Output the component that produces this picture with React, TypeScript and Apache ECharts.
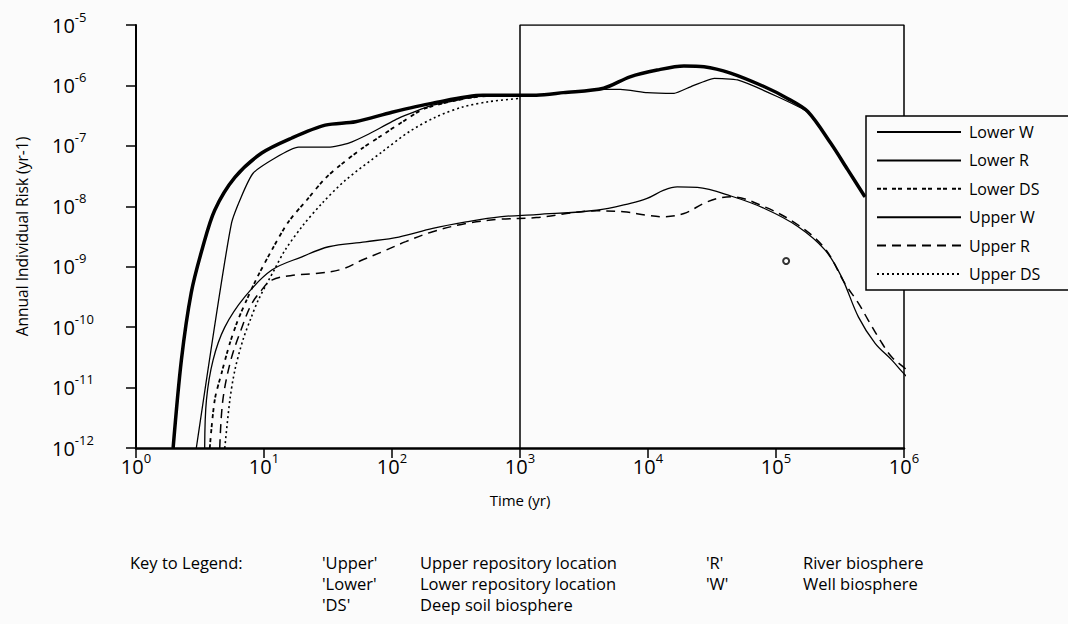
import React, { useEffect, useRef } from 'react';
import * as echarts from 'echarts';

// ---- data (time in years, annual individual risk per year) ----
const lowerWTime = [1.95, 2.26, 2.7, 3.32, 4.12, 5.92, 9.6, 16.5, 30.1, 51.9, 100, 208, 513, 1340, 2180, 4500, 7230, 11800, 19100, 27400, 44100, 81300, 123000, 177000, 268000, 364000, 495000];
const lowerWRisk = [1e-12, 2.8e-11, 3.7e-10, 2.1e-9, 8.6e-9, 3.0e-8, 7.6e-8, 1.35e-7, 2.2e-7, 2.5e-7, 3.6e-7, 5.1e-7, 6.9e-7, 6.9e-7, 7.6e-7, 9.0e-7, 1.39e-6, 1.8e-6, 2.1e-6, 2.04e-6, 1.6e-6, 9.5e-7, 6.1e-7, 3.7e-7, 1.1e-7, 4.0e-8, 1.44e-8];

const lowerRTime = [2.96, 5.58, 8.25, 18.6, 32, 45.9, 65.9, 113, 208, 513, 1340, 2180, 4500, 6070, 9840, 16000, 21500, 32900, 50100, 103000, 177000, 268000, 364000, 495000];
const lowerRRisk = [1e-12, 5.3e-9, 3.55e-8, 9.5e-8, 9.5e-8, 1.11e-7, 1.57e-7, 2.88e-7, 4.7e-7, 6.7e-7, 6.8e-7, 7.5e-7, 8.6e-7, 8.6e-7, 7.6e-7, 7.4e-7, 9.5e-7, 1.31e-6, 1.23e-6, 6.5e-7, 3.6e-7, 1.1e-7, 4.0e-8, 1.42e-8];

const lowerDSTime = [3.77, 4.12, 4.66, 5.41, 6.25, 7.31, 8.77, 11.5, 15.5, 21.6, 30.1, 39.5, 58.5, 84, 121, 184, 513, 1000];
const lowerDSRisk = [1e-12, 6.2e-12, 1.73e-11, 5.4e-11, 1.3e-10, 2.8e-10, 6.4e-10, 1.88e-9, 5.5e-9, 1.27e-8, 2.9e-8, 4.8e-8, 9.1e-8, 1.51e-7, 2.5e-7, 4.2e-7, 6.6e-7, 6.8e-7];

const upperWTime = [3.44, 3.55, 4.0, 4.94, 7.1, 11.5, 19.8, 32, 62, 113, 208, 379, 692, 1340, 3980, 7280, 9840, 13300, 16900, 24300, 44400, 81300, 149000, 241000, 325000, 440000, 595000, 804000, 973000, 1120000];
const upperWRisk = [1e-12, 6.2e-12, 2.85e-11, 1.0e-10, 3.2e-10, 8.8e-10, 1.46e-9, 2.14e-9, 2.58e-9, 3.1e-9, 4.3e-9, 5.5e-9, 6.7e-9, 7.3e-9, 8.6e-9, 1.12e-8, 1.35e-8, 1.85e-8, 2.1e-8, 2.05e-8, 1.48e-8, 9.2e-9, 4.6e-9, 1.9e-9, 6.8e-10, 1.48e-10, 5.4e-11, 2.85e-11, 1.8e-11, 1.33e-11];

const upperRTime = [4.51, 4.77, 5.51, 6.6, 7.9, 9.3, 11.5, 17.5, 25.2, 40.7, 58.5, 84, 128, 208, 379, 692, 1340, 3980, 6450, 9840, 13300, 19100, 27400, 34900, 44400, 81300, 149000, 241000, 345000, 440000, 526000, 650000, 802000, 1050000, 1150000];
const upperRRisk = [1e-12, 6.2e-12, 2.85e-11, 8.9e-11, 2.3e-10, 3.8e-10, 6.0e-10, 7.3e-10, 7.7e-10, 9.1e-10, 1.29e-9, 1.77e-9, 2.6e-9, 3.8e-9, 5.2e-9, 6.1e-9, 6.5e-9, 8.4e-9, 8.1e-9, 7.1e-9, 6.7e-9, 7.6e-9, 1.12e-8, 1.35e-8, 1.44e-8, 9.8e-9, 4.9e-9, 2.0e-9, 5.3e-10, 2.5e-10, 1.3e-10, 6.1e-11, 3.2e-11, 1.94e-11, 1.33e-11];

const upperDSTime = [4.94, 5.41, 5.92, 6.84, 7.91, 9.02, 12.2, 14.6, 19.8, 28.4, 43.3, 84, 136, 220, 357, 578, 1000];
const upperDSRisk = [1e-12, 6.2e-12, 1.94e-11, 6.1e-11, 1.41e-10, 2.8e-10, 9.4e-10, 1.88e-9, 4.6e-9, 1.12e-8, 2.7e-8, 8.0e-8, 1.71e-7, 3.0e-7, 4.4e-7, 5.4e-7, 6.1e-7];

// partial frame drawn over the 10^3 .. 10^6 region
const frameTime = [1000, 1000, 1e6, 1e6];
const frameRisk = [1e-12, 1e-5, 1e-5, 1e-12];

// small stray circle in the original figure
const strayTime = [120000];
const strayRisk = [1.24e-9];

const seriesNames = ['Lower W', 'Lower R', 'Lower DS', 'Upper W', 'Upper R', 'Upper DS'];

const keyTitle = 'Key to Legend:';
const keyCodesA = ["'Upper'", "'Lower'", "'DS'"];
const keyTextsA = ['Upper repository location', 'Lower repository location', 'Deep soil biosphere'];
const keyCodesB = ["'R'", "'W'"];
const keyTextsB = ['River biosphere', 'Well biosphere'];

const FONT = '"Open Sans", Lato, sans-serif';
const BG = '#fbfbfb';

const zip = (t: number[], r: number[]) => t.map((v, i) => [v, r[i]]);

const powLabel = (v: number) => {
  const e = Math.round(Math.log10(v));
  return '{b|10}{s|' + String(e) + '}';
};

const richLabel = {
  b: { fontSize: 20, fontFamily: FONT, color: '#000', lineHeight: 30 },
  s: { fontSize: 13, fontFamily: FONT, color: '#000', verticalAlign: 'top', lineHeight: 14 },
};

export default function App() {
  const ref = useRef<HTMLDivElement>(null);

  useEffect(() => {
    if (!ref.current) return;
    const chart = echarts.init(ref.current, undefined, { renderer: 'svg' });

    const lineSeries = (name: string, t: number[], r: number[], width: number, type: any, smooth: number | boolean, clip = true) => ({
      name,
      type: 'line',
      data: zip(t, r),
      symbol: 'none',
      showSymbol: false,
      smooth,
      clip,
      lineStyle: { color: '#000', width, type, cap: 'butt' },
      itemStyle: { color: '#000' },
      silent: true,
      z: 3,
    });

    const graphicTexts: any[] = [];
    const rowY = [562, 583, 604];
    const txt = (x: number, y: number, text: string) => ({
      type: 'text', x, y, style: { text, font: '16.5px ' + FONT, fill: '#000', verticalAlign: 'middle' },
    });
    graphicTexts.push(txt(130, rowY[0], keyTitle));
    keyCodesA.forEach((c, i) => {
      graphicTexts.push(txt(322, rowY[i], c));
      graphicTexts.push(txt(420, rowY[i], keyTextsA[i]));
    });
    keyCodesB.forEach((c, i) => {
      graphicTexts.push(txt(706, rowY[i], c));
      graphicTexts.push(txt(803, rowY[i], keyTextsB[i]));
    });

    chart.setOption({
      animation: false,
      backgroundColor: BG,
      grid: { left: 136, top: 25, width: 768, height: 423, containLabel: false, outerBoundsMode: 'none' },
      xAxis: {
        type: 'log',
        logBase: 10,
        min: 1,
        max: 1e6,
        splitNumber: 6,
        name: 'Time (yr)',
        nameLocation: 'middle',
        nameGap: 44,
        nameTextStyle: { fontSize: 15, fontFamily: FONT, color: '#000' },
        axisLine: { show: true, lineStyle: { color: '#000', width: 2.5 } },
        axisTick: { show: true, length: 10, lineStyle: { color: '#000', width: 1.5 } },
        minorTick: { show: false },
        splitLine: { show: false },
        axisLabel: { margin: 3, formatter: powLabel, rich: richLabel },
      },
      yAxis: {
        type: 'log',
        logBase: 10,
        min: 1e-12,
        max: 1e-5,
        splitNumber: 7,
        name: 'Annual Individual Risk (yr-1)',
        nameLocation: 'middle',
        nameGap: 106,
        nameRotate: 90,
        nameTextStyle: { fontSize: 15.5, fontFamily: FONT, color: '#000' },
        axisLine: { show: true, lineStyle: { color: '#000', width: 2 } },
        axisTick: { show: true, length: 10, lineStyle: { color: '#000', width: 1.5 } },
        splitLine: { show: false },
        axisLabel: { margin: 84, align: 'left', formatter: powLabel, rich: richLabel },
      },
      legend: {
        data: seriesNames,
        orient: 'vertical',
        left: 866,
        top: 116,
        itemWidth: 84,
        itemHeight: 14,
        itemGap: 12.4,
        padding: [8, 60, 8, 10],
        backgroundColor: BG,
        borderColor: '#000',
        borderWidth: 1.5,
        borderRadius: 0,
        selectedMode: false,
        itemStyle: { opacity: 0, borderWidth: 0 },
        textStyle: { fontSize: 16, lineHeight: 14, fontFamily: FONT, color: '#000', padding: [0, 0, 0, 3] },
      },
      graphic: graphicTexts,
      series: [
        lineSeries('Lower W', lowerWTime, lowerWRisk, 3.5, 'solid', 0.3),
        lineSeries('Lower R', lowerRTime, lowerRRisk, 1.3, 'solid', 0.15),
        lineSeries('Lower DS', lowerDSTime, lowerDSRisk, 1.8, [4, 2, 4, 5], 0.3),
        lineSeries('Upper W', upperWTime, upperWRisk, 1.3, 'solid', 0.35, false),
        lineSeries('Upper R', upperRTime, upperRRisk, 1.5, [9, 6], 0.35, false),
        lineSeries('Upper DS', upperDSTime, upperDSRisk, 1.6, [2, 3], 0.3),
        {
          name: 'frame',
          type: 'line',
          data: zip(frameTime, frameRisk),
          symbol: 'none',
          lineStyle: { color: '#000', width: 1.5 },
          silent: true,
          z: 2,
        },
        {
          name: 'stray',
          type: 'scatter',
          data: zip(strayTime, strayRisk),
          symbol: 'emptyCircle',
          symbolSize: 6,
          itemStyle: { color: '#000', borderColor: '#000', borderWidth: 1 },
          silent: true,
          z: 4,
        },
      ],
    });

    return () => chart.dispose();
  }, []);

  return <div ref={ref} style={{ position: 'fixed', left: 0, top: 0, width: 1068, height: 624 }} />;
}
